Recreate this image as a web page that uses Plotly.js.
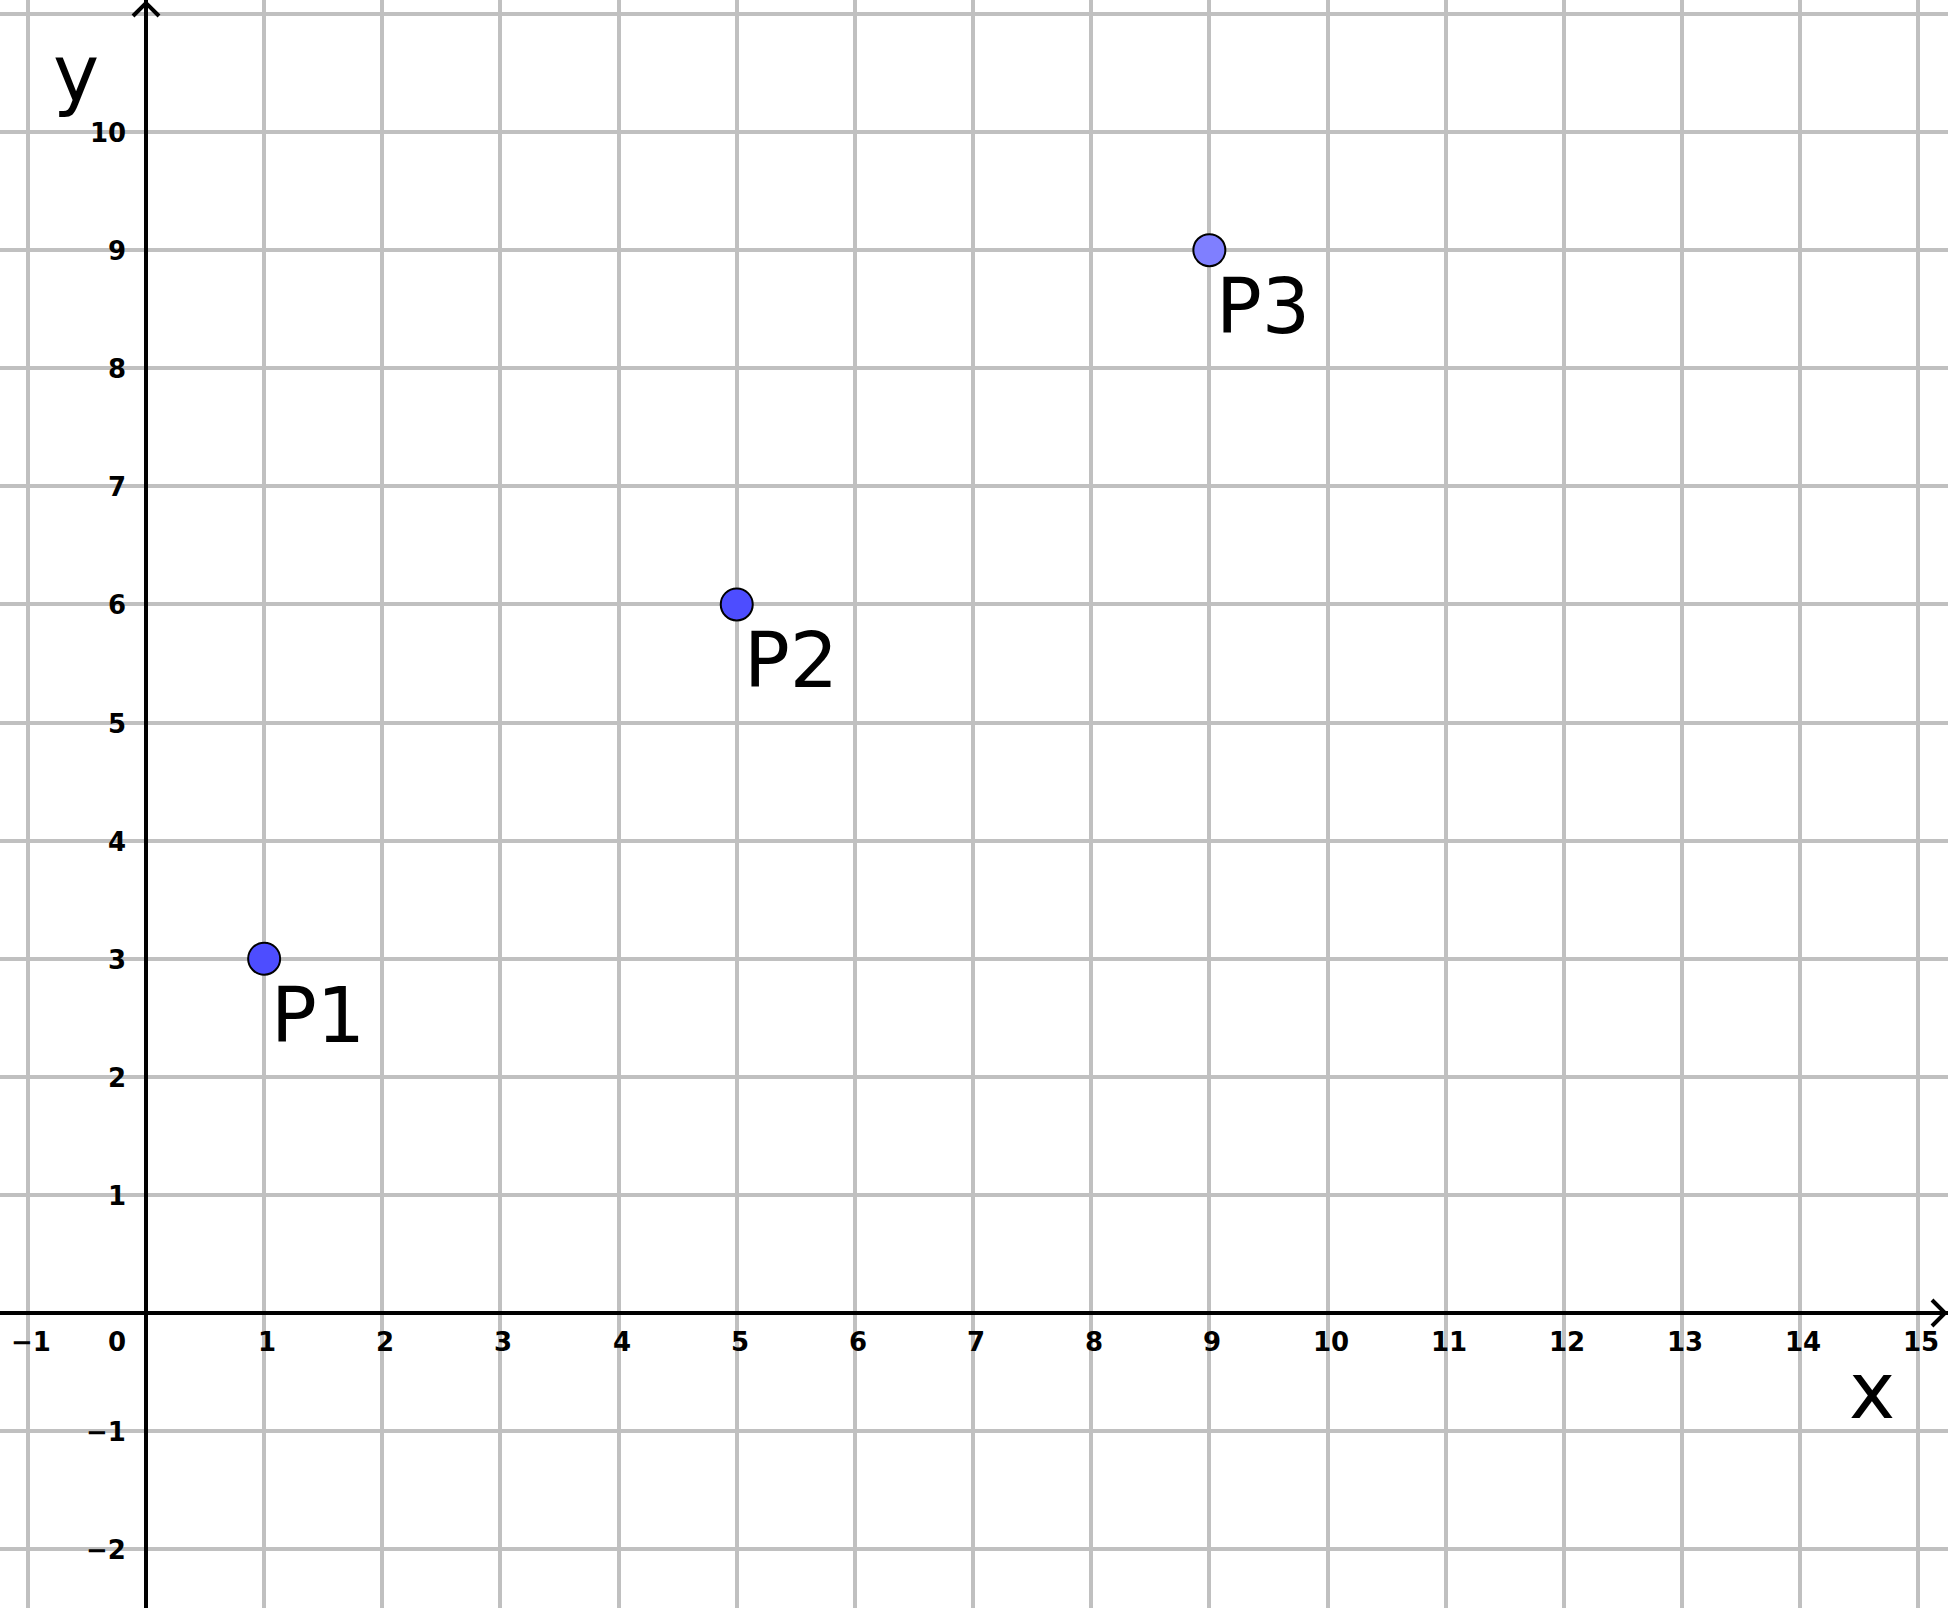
<!DOCTYPE html>
<html>
<head>
<meta charset="utf-8">
<script src="https://cdn.plot.ly/plotly-3.0.1.min.js"></script>
<style>html,body{margin:0;padding:0;background:#fff;}#chart{width:1948px;height:1608px;}</style>
</head>
<body>
<div id="chart"></div>
<script>
// Data
const pointNames = ["P1", "P2", "P3"];
const pointX = [1, 5, 9];
const pointY = [3, 6, 9];
const pointColors = ["#4d4dff", "#4d4dff", "#7f7fff"];
const xTickValues = [-1, 1, 2, 3, 4, 5, 6, 7, 8, 9, 10, 11, 12, 13, 14, 15];
const yTickValues = [-2, -1, 1, 2, 3, 4, 5, 6, 7, 8, 9, 10];
const xRange = [-1.2357, 15.2518];
const yRange = [-2.498, 11.118];

const W = 1948, H = 1608;
const sx = W / (xRange[1] - xRange[0]);
const sy = H / (yRange[1] - yRange[0]);
function lab(v){ return v < 0 ? "\u2212" + Math.abs(v) : String(v); }

const tickFont = {family: "DejaVu Sans", size: 26, color: "#000", weight: "bold"};
const annotations = [];
xTickValues.forEach(v => annotations.push({
  x: v, y: 0, xref: "x", yref: "y", text: "<b>" + lab(v) + "</b>", showarrow: false,
  xanchor: "center", yanchor: "middle", xshift: 3, yshift: -29, font: tickFont
}));
yTickValues.forEach(v => annotations.push({
  x: 0, y: v, xref: "x", yref: "y", text: "<b>" + lab(v) + "</b>", showarrow: false,
  xanchor: "right", yanchor: "middle", xshift: -18, yshift: -1, font: tickFont
}));
annotations.push({
  x: 0, y: 0, xref: "x", yref: "y", text: "<b>0</b>", showarrow: false,
  xanchor: "right", yanchor: "middle", xshift: -18, yshift: -29, font: tickFont
});
pointNames.forEach((n, i) => annotations.push({
  x: pointX[i], y: pointY[i], xref: "x", yref: "y", text: n, showarrow: false,
  xanchor: "left", yanchor: "top", xshift: 5, yshift: -10,
  font: {family: "DejaVu Sans", size: 76, color: "#000"}
}));
// axis names
annotations.push({
  x: 14.61, y: -0.70, xref: "x", yref: "y", text: "x", showarrow: false,
  xanchor: "center", yanchor: "middle", yshift: 5,
  font: {family: "DejaVu Sans", size: 78, color: "#000"}
});
annotations.push({
  x: -0.59, y: 10.50, xref: "x", yref: "y", text: "y", showarrow: false,
  xanchor: "center", yanchor: "middle", yshift: -1,
  font: {family: "DejaVu Sans", size: 78, color: "#000"}
});

// arrow heads (chevrons) at the axis ends
const ax = 13 / sx, ay = 13 / sy;
const xEnd = xRange[1] - 3 / sx, yEnd = yRange[1] - 3 / sy;
const shapes = [
  {type: "path", xref: "x", yref: "y",
   path: `M ${xEnd - ax} ${ay} L ${xEnd} 0 L ${xEnd - ax} ${-ay}`,
   line: {color: "#000", width: 4}},
  {type: "path", xref: "x", yref: "y",
   path: `M ${-ax} ${yEnd - ay} L 0 ${yEnd} L ${ax} ${yEnd - ay}`,
   line: {color: "#000", width: 4}}
];

const trace = {
  x: pointX, y: pointY, type: "scatter", mode: "markers", text: pointNames,
  marker: {size: 32, color: pointColors, line: {color: "#000", width: 2}},
  hoverinfo: "text", cliponaxis: false
};

const layout = {
  width: W, height: H, margin: {l: 0, r: 0, t: 0, b: 0, pad: 0},
  paper_bgcolor: "#fff", plot_bgcolor: "#fff", showlegend: false,
  xaxis: {range: xRange, dtick: 1, tick0: 0, showgrid: true, gridcolor: "#c0c0c0", gridwidth: 4,
          zeroline: true, zerolinecolor: "#000", zerolinewidth: 4, showticklabels: false,
          ticks: "", showline: false, fixedrange: true},
  yaxis: {range: yRange, dtick: 1, tick0: 0, showgrid: true, gridcolor: "#c0c0c0", gridwidth: 4,
          zeroline: true, zerolinecolor: "#000", zerolinewidth: 4, showticklabels: false,
          ticks: "", showline: false, fixedrange: true},
  annotations: annotations, shapes: shapes
};
Plotly.newPlot("chart", [trace], layout, {displayModeBar: false, staticPlot: true});
</script>
</body>
</html>
